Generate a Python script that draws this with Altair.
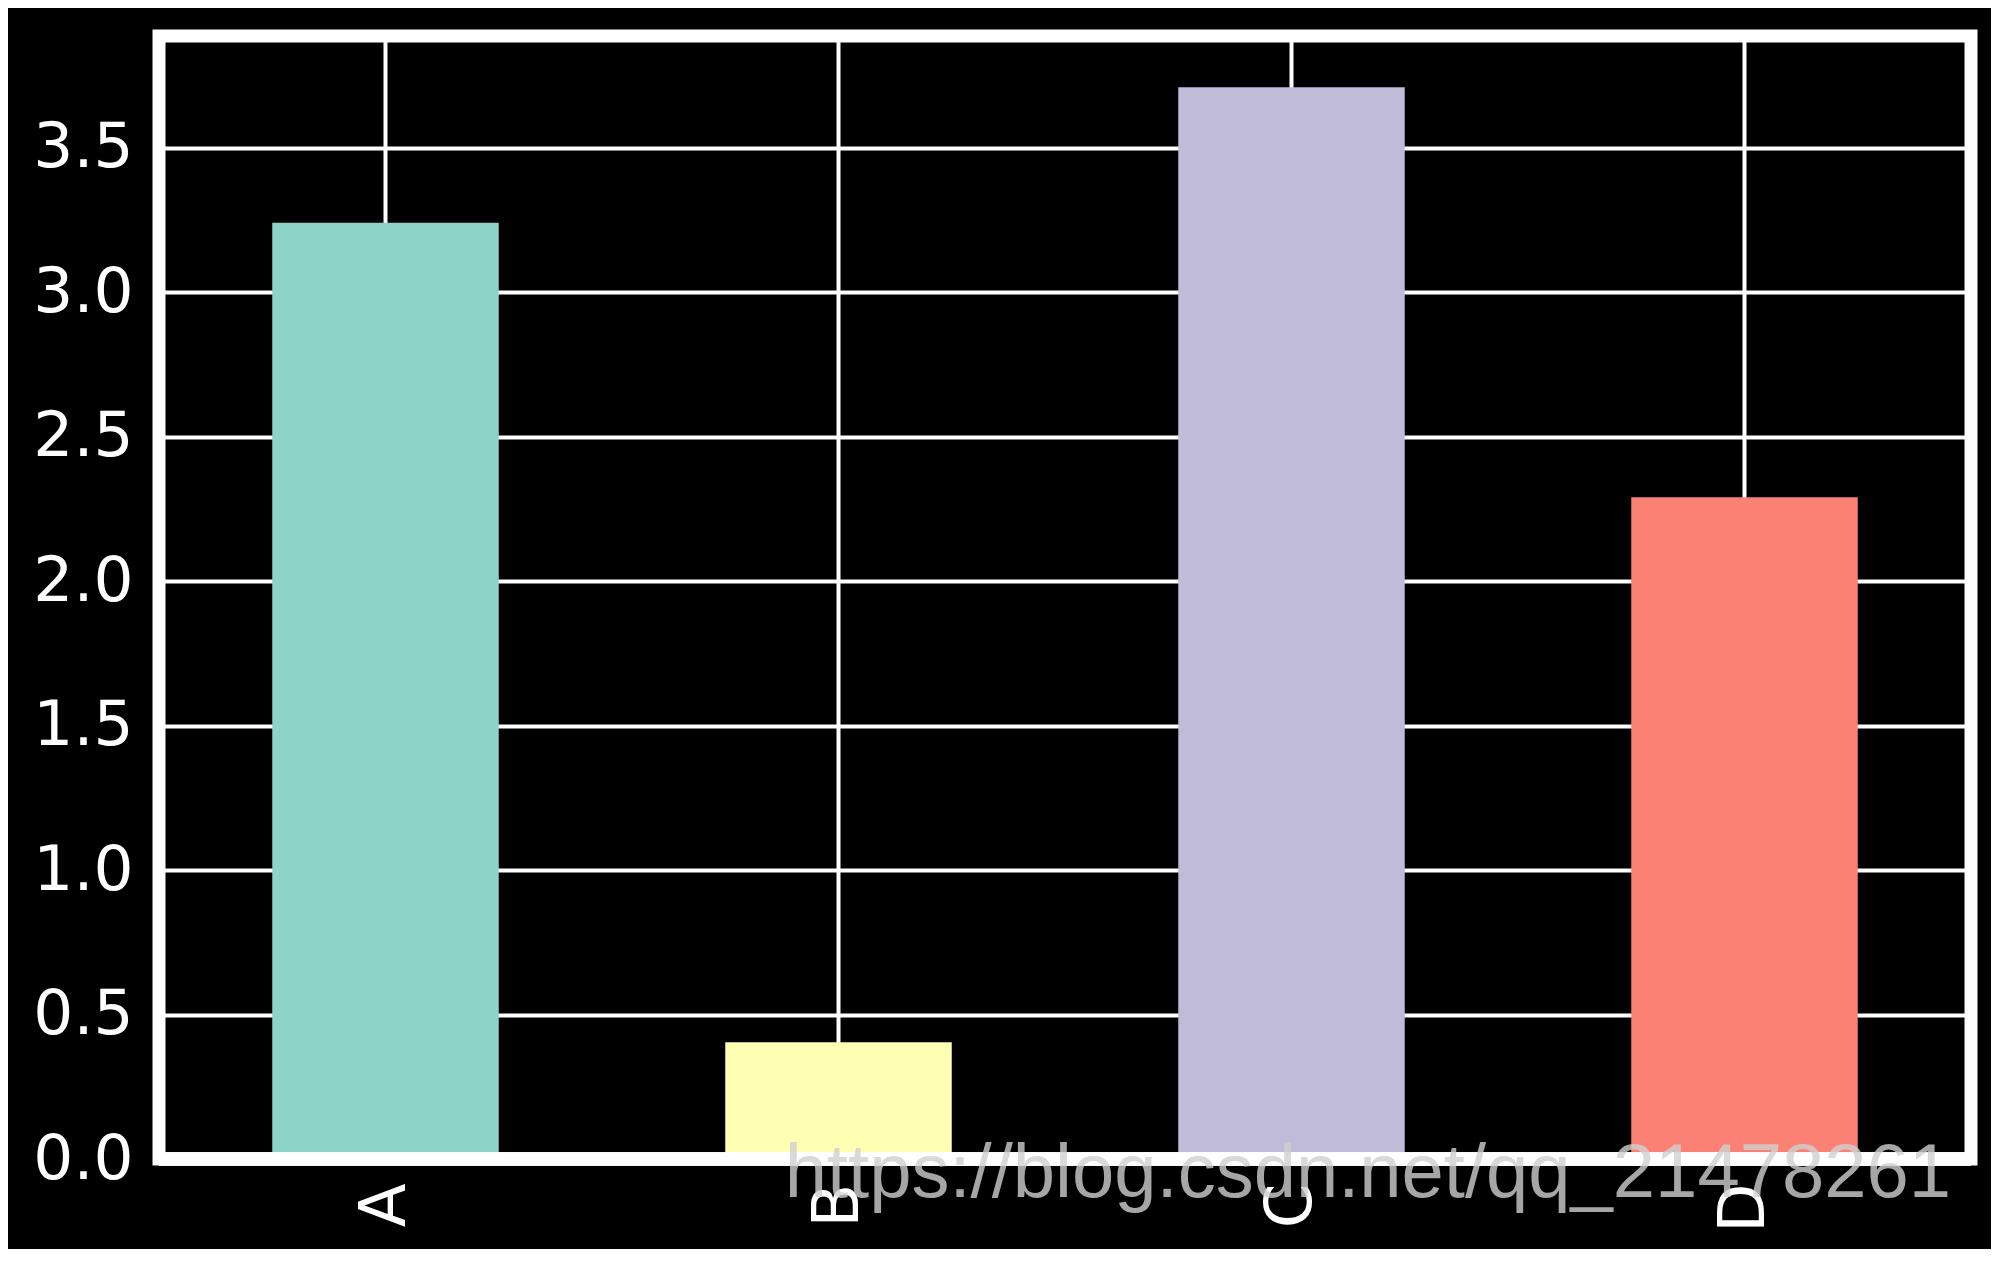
import altair as alt
import pandas as pd

categories = ["A", "B", "C", "D"]
values = [3.24, 0.404, 3.709, 2.29]
bar_colors = ["#8dd3c7", "#feffb3", "#bfbbd9", "#fa8174"]
y_ticks = [0.0, 0.5, 1.0, 1.5, 2.0, 2.5, 3.0, 3.5]
watermark = ["https://blog.csdn.net/qq_21478261"]

df = pd.DataFrame({"cat": categories, "val": values})
wm = pd.DataFrame({"t": watermark})

W, H = 1812, 1123

x_enc = alt.X(
    "cat:N",
    sort=categories,
    title=None,
    scale=alt.Scale(paddingInner=0.5, paddingOuter=0.25),
    axis=alt.Axis(
        labelAngle=270,
        labelFontSize=64,
        labelFont="DejaVu Sans",
        labelColor="#ffffff",
        labelPadding=24,
        ticks=False,
        domain=False,
        grid=True,
        gridColor="#ffffff",
        gridWidth=4,
        gridOpacity=1,
        bandPosition=0.5,
    ),
)
y_enc = alt.Y(
    "val:Q",
    title=None,
    scale=alt.Scale(domain=[0, 3.886], nice=False, zero=True),
    axis=alt.Axis(
        values=y_ticks,
        format=".1f",
        labelFontSize=63,
        labelFont="DejaVu Sans",
        labelColor="#ffffff",
        labelPadding=26,
        ticks=False,
        domain=False,
        grid=True,
        gridColor="#ffffff",
        gridWidth=4,
        gridOpacity=1,
    ),
)

bars = alt.Chart(df).mark_bar(opacity=1).encode(
    x=x_enc,
    y=y_enc,
    color=alt.Color("cat:N", scale=alt.Scale(domain=categories, range=bar_colors), legend=None),
)

base_line = alt.Chart(df).mark_rule(color="#ffffff", strokeWidth=13).encode(
    y=alt.datum(0)
)

text = alt.Chart(wm).mark_text(
    align="right",
    baseline="alphabetic",
    fontSize=76,
    font="Liberation Sans",
    color="#d0d0d0",
    opacity=0.8,
).encode(
    text="t:N",
    x=alt.value(W - 20),
    y=alt.value(H + 38),
)

chart = alt.layer(bars, base_line, text).properties(
    width=W,
    height=H,
    background="#000000",
    padding={"left": 151, "top": 28, "right": 20, "bottom": 90},
    autosize=alt.AutoSizeParams(type="none"),
).configure_view(
    stroke="#ffffff",
    strokeWidth=13,
)

chart.save("out.html", embed_options={"renderer": "svg", "actions": False})
